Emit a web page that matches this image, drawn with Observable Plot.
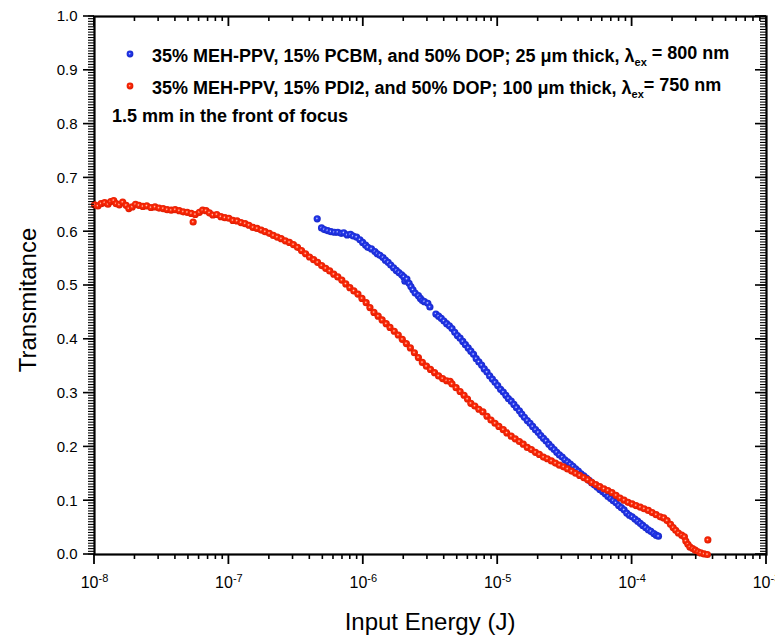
<!DOCTYPE html>
<html><head><meta charset="utf-8">
<script src="https://cdn.jsdelivr.net/npm/d3@7"></script>
<script src="https://cdn.jsdelivr.net/npm/@observablehq/plot@0.6"></script>
<style>
body{margin:0;background:#fff;}
#chart{width:775px;height:641px;}
</style></head><body><div id="chart"></div>
<script>
// ---- data ----
const seriesNames = ["PCBM, 25 um, 800 nm", "PDI2, 100 um, 750 nm"];
const legendMain = [
  "35% MEH-PPV, 15% PCBM, and 50% DOP; 25 \u03bcm thick, \u03bb",
  "35% MEH-PPV, 15% PDI2, and 50% DOP; 100 \u03bcm thick, \u03bb"
];
const legendTail = [" = 800 nm", "= 750 nm"];
const focusNote = "1.5 mm in the front of focus";
const xLabel = "Input Energy (J)";
const yLabel = "Transmitance";
const xTickValues = [1e-8, 1e-7, 1e-6, 1e-5, 1e-4, 1e-3];
const xTickExponents = ["-8", "-7", "-6", "-5", "-4", "-3"];
const yTickValues = [0, 0.1, 0.2, 0.3, 0.4, 0.5, 0.6, 0.7, 0.8, 0.9, 1.0];
const yTickLabels = ["0.0","0.1","0.2","0.3","0.4","0.5","0.6","0.7","0.8","0.9","1.0"];

const blueEnergy = [
4.54e-7,4.89e-7,5.13e-7,5.43e-7,5.75e-7,6.10e-7,6.46e-7,6.84e-7,7.16e-7,7.59e-7,
8.04e-7,8.41e-7,8.91e-7,9.44e-7,9.89e-7,1.04e-6,1.08e-6,1.15e-6,1.22e-6,1.27e-6,
1.33e-6,1.40e-6,1.46e-6,1.53e-6,1.60e-6,1.68e-6,1.76e-6,1.84e-6,1.93e-6,2.00e-6,
2.04e-6,2.11e-6,2.19e-6,2.26e-6,2.34e-6,2.43e-6,2.57e-6,2.66e-6,2.75e-6,2.85e-6,
3.02e-6,3.13e-6,3.47e-6,3.63e-6,3.80e-6,3.98e-6,4.17e-6,4.37e-6,4.57e-6,4.79e-6,
5.01e-6,5.25e-6,5.50e-6,5.75e-6,6.03e-6,6.31e-6,6.61e-6,6.92e-6,7.24e-6,7.59e-6,
7.94e-6,8.32e-6,8.71e-6,9.12e-6,9.55e-6,1.00e-5,1.05e-5,1.10e-5,1.15e-5,1.20e-5,
1.26e-5,1.32e-5,1.38e-5,1.45e-5,1.51e-5,1.58e-5,1.66e-5,1.74e-5,1.82e-5,1.91e-5,
2.00e-5,2.09e-5,2.19e-5,2.29e-5,2.40e-5,2.51e-5,2.63e-5,2.75e-5,2.88e-5,3.02e-5,
3.16e-5,3.31e-5,3.47e-5,3.63e-5,3.80e-5,3.98e-5,4.17e-5,4.37e-5,4.57e-5,4.79e-5,
5.01e-5,5.25e-5,5.50e-5,5.75e-5,6.03e-5,6.31e-5,6.61e-5,6.92e-5,7.24e-5,7.59e-5,
7.94e-5,8.32e-5,8.71e-5,9.12e-5,9.55e-5,1.00e-4,1.05e-4,1.10e-4,1.15e-4,1.20e-4,
1.26e-4,1.32e-4,1.38e-4,1.45e-4,1.51e-4,1.57e-4
];
const blueTransmittance = [
0.624,0.607,0.604,0.602,0.600,0.599,0.599,0.597,0.598,0.594,
0.595,0.592,0.590,0.585,0.580,0.575,0.571,0.568,0.563,0.559,
0.556,0.552,0.547,0.543,0.538,0.533,0.528,0.524,0.520,0.516,
0.508,0.512,0.504,0.498,0.492,0.486,0.481,0.476,0.472,0.470,
0.467,0.460,0.447,0.443,0.439,0.434,0.429,0.425,0.420,0.413,
0.407,0.402,0.396,0.390,0.384,0.378,0.372,0.364,0.358,0.352,
0.345,0.339,0.332,0.326,0.320,0.314,0.307,0.302,0.296,0.290,
0.285,0.279,0.273,0.267,0.261,0.255,0.249,0.244,0.238,0.232,
0.227,0.221,0.216,0.211,0.205,0.200,0.195,0.190,0.185,0.181,
0.176,0.172,0.168,0.164,0.159,0.155,0.150,0.146,0.142,0.138,
0.133,0.129,0.125,0.121,0.117,0.113,0.108,0.104,0.100,0.096,
0.091,0.087,0.083,0.077,0.073,0.070,0.066,0.062,0.058,0.054,
0.050,0.046,0.043,0.039,0.036,0.034
];

const redEnergy = [
1.00e-8,1.06e-8,1.12e-8,1.19e-8,1.26e-8,1.32e-8,1.39e-8,1.45e-8,1.53e-8,1.62e-8,
1.72e-8,1.80e-8,1.91e-8,2.02e-8,2.14e-8,2.29e-8,2.45e-8,2.63e-8,2.82e-8,3.02e-8,
3.24e-8,3.47e-8,3.72e-8,3.98e-8,4.27e-8,4.57e-8,4.90e-8,5.42e-8,5.25e-8,5.62e-8,
6.03e-8,6.38e-8,6.76e-8,7.16e-8,7.59e-8,8.13e-8,8.71e-8,9.33e-8,1.00e-7,1.07e-7,
1.15e-7,1.23e-7,1.32e-7,1.41e-7,1.51e-7,1.62e-7,1.74e-7,1.86e-7,2.00e-7,2.14e-7,
2.29e-7,2.45e-7,2.63e-7,2.82e-7,3.02e-7,3.24e-7,3.47e-7,3.72e-7,3.98e-7,4.27e-7,
4.57e-7,4.90e-7,5.25e-7,5.62e-7,6.03e-7,6.46e-7,6.92e-7,7.41e-7,7.94e-7,8.51e-7,
9.12e-7,9.77e-7,1.05e-6,1.12e-6,1.20e-6,1.29e-6,1.38e-6,1.48e-6,1.58e-6,1.70e-6,
1.82e-6,1.95e-6,2.09e-6,2.24e-6,2.40e-6,2.57e-6,2.75e-6,2.95e-6,3.16e-6,3.39e-6,
3.63e-6,3.89e-6,4.17e-6,4.42e-6,4.57e-6,4.90e-6,5.25e-6,5.62e-6,5.96e-6,6.31e-6,
6.76e-6,7.24e-6,7.76e-6,8.32e-6,8.91e-6,9.55e-6,1.02e-5,1.10e-5,1.17e-5,1.26e-5,
1.35e-5,1.45e-5,1.55e-5,1.66e-5,1.78e-5,1.91e-5,2.04e-5,2.19e-5,2.34e-5,2.51e-5,
2.69e-5,2.88e-5,3.09e-5,3.31e-5,3.55e-5,3.80e-5,4.07e-5,4.37e-5,4.68e-5,5.01e-5,
5.37e-5,5.75e-5,6.17e-5,6.61e-5,7.08e-5,7.59e-5,8.13e-5,8.71e-5,9.33e-5,1.00e-4,
1.07e-4,1.15e-4,1.23e-4,1.32e-4,1.41e-4,1.51e-4,1.62e-4,1.72e-4,1.82e-4,1.93e-4,
2.02e-4,2.11e-4,2.21e-4,2.34e-4,2.45e-4,2.51e-4,2.60e-4,2.69e-4,2.82e-4,2.95e-4,
3.09e-4,3.24e-4,3.43e-4,3.63e-4,3.66e-4
];
const redTransmittance = [
0.650,0.648,0.652,0.654,0.651,0.656,0.658,0.652,0.650,0.655,
0.649,0.643,0.646,0.651,0.649,0.647,0.648,0.645,0.646,0.644,
0.643,0.641,0.640,0.641,0.639,0.637,0.636,0.618,0.634,0.632,
0.636,0.640,0.639,0.635,0.631,0.632,0.628,0.626,0.625,0.621,
0.620,0.617,0.615,0.612,0.608,0.606,0.603,0.600,0.597,0.593,
0.590,0.587,0.583,0.580,0.576,0.571,0.565,0.559,0.553,0.548,
0.543,0.537,0.532,0.527,0.521,0.516,0.510,0.503,0.496,0.490,
0.484,0.476,0.468,0.459,0.450,0.443,0.436,0.429,0.422,0.415,
0.408,0.400,0.392,0.384,0.375,0.366,0.357,0.350,0.344,0.338,
0.332,0.327,0.323,0.322,0.317,0.310,0.303,0.296,0.289,0.281,
0.276,0.270,0.265,0.257,0.250,0.244,0.238,0.232,0.226,0.220,
0.215,0.210,0.205,0.199,0.195,0.190,0.186,0.181,0.178,0.174,
0.170,0.166,0.163,0.159,0.155,0.151,0.147,0.143,0.139,0.134,
0.130,0.126,0.122,0.119,0.115,0.110,0.105,0.101,0.097,0.094,
0.091,0.088,0.085,0.082,0.078,0.074,0.070,0.068,0.063,0.056,
0.050,0.045,0.040,0.036,0.033,0.025,0.019,0.014,0.011,0.008,
0.005,0.003,0.001,0.000,0.027
];

const blueData = blueEnergy.map((e, i) => ({energy: e, t: blueTransmittance[i], series: seriesNames[0]}));
const redData = redEnergy.map((e, i) => ({energy: e, t: redTransmittance[i], series: seriesNames[1]}));

const xMinor = [];
for (let k = -8; k < -3; k++) for (let m = 2; m <= 9; m++) xMinor.push(m * Math.pow(10, k));
const yMinor = d3.range(0, 201).map(i => i / 200);

const FONT = "'Liberation Sans', Arial, sans-serif";

const chart = Plot.plot({
  width: 775, height: 641, marginLeft: 94, marginRight: 9, marginTop: 16, marginBottom: 87,
  style: {fontFamily: FONT, background: "#fff", color: "#000"},
  x: {type: "log", domain: [1e-8, 1e-3]},
  y: {domain: [0, 1]},
  marks: [
    Plot.axisY(yTickValues, {anchor: "left", tickSize: 11, tickPadding: 6, stroke: "none",
      tickFormat: d => yTickLabels[yTickValues.indexOf(d)], fontSize: 15, label: null}),
    Plot.axisX(xTickValues, {anchor: "bottom", tickSize: 10, tickPadding: 12, stroke: "none", fontSize: 16,
      tickFormat: d => "10^" + xTickExponents[xTickValues.indexOf(d)], label: null}),
    Plot.frame({strokeWidth: 2.2}),
    Plot.dot(blueData, {x: "energy", y: "t", r: 3.6, fill: "url(#ballBlue)", stroke: "none"}),
    Plot.dot(redData, {x: "energy", y: "t", r: 3.6, fill: "url(#ballRed)", stroke: "none"})
  ]
});

const svg = d3.select(chart);
const defs = svg.append("defs");
function ball(id, light, base, dark) {
  const g = defs.append("radialGradient").attr("id", id).attr("cx", "0.45").attr("cy", "0.45").attr("r", "0.6");
  g.append("stop").attr("offset", "0").attr("stop-color", light);
  g.append("stop").attr("offset", "0.3").attr("stop-color", base);
  g.append("stop").attr("offset", "1").attr("stop-color", dark);
}
ball("ballBlue", "#d8dcff", "#2438ee", "#1424c0");
ball("ballRed", "#ffd0c0", "#ff2a08", "#d81800");

// tick marks, positioned with Plot's own scales
const xs = chart.scale("x"), ys = chart.scale("y");
const [L, R] = xs.range, [B, T] = ys.range;
const ticks = svg.append("g").attr("stroke", "#000").attr("fill", "none");
function seg(x1, y1, x2, y2, w) {
  ticks.append("line").attr("x1", x1).attr("y1", y1).attr("x2", x2).attr("y2", y2).attr("stroke-width", w);
}
yMinor.forEach(v => { const y = ys.apply(v); seg(L - 6, y, L, y, 1.1); seg(R - 6, y, R, y, 1.1); });
yTickValues.forEach(v => { const y = ys.apply(v); seg(L - 11, y, L, y, 1.6); seg(R - 11, y, R, y, 1.6); });
xMinor.forEach(v => { const x = xs.apply(v); seg(x, B, x, B + 5, 1.6); seg(x, T, x, T + 5, 1.6); });
xTickValues.forEach(v => { const x = xs.apply(v); seg(x, B, x, B + 10, 1.8); seg(x, T, x, T + 10, 1.8); });

// superscript exponents on x tick labels
svg.selectAll("g[aria-label='x-axis tick label'] text").each(function() {
  const t = d3.select(this);
  const s = t.text();
  if (!s.includes("^")) return;
  const [base, exp] = s.split("^");
  t.text(null);
  t.append("tspan").text(base);
  t.append("tspan").attr("dy", "-0.55em").attr("font-size", "11px").text(exp);
});

// axis titles
svg.append("text")
  .attr("x", (L + R) / 2).attr("y", 630)
  .attr("text-anchor", "middle").attr("font-size", 24).attr("fill", "#000")
  .text(xLabel);
svg.append("text")
  .attr("transform", `translate(36,${(T + B) / 2 + 15}) rotate(-90)`)
  .attr("text-anchor", "middle").attr("font-size", 24).attr("fill", "#000")
  .text(yLabel);

// legend
const legend = svg.append("g").attr("font-weight", "bold").attr("font-size", 18)
  .attr("fill", "#000").attr("text-anchor", "start");
const rows = [{y: 62, fill: "url(#ballBlue)"}, {y: 94, fill: "url(#ballRed)"}];
rows.forEach((r, i) => {
  legend.append("circle").attr("cx", 130).attr("cy", r.y - 8).attr("r", 3.4).attr("fill", r.fill);
  const t = legend.append("text").attr("x", 152).attr("y", r.y);
  t.append("tspan").text(legendMain[i]);
  t.append("tspan").attr("dy", "0.4em").attr("font-size", 11).text("ex");
  t.append("tspan").attr("dy", "-0.4em").text(legendTail[i]);
});
legend.append("text").attr("x", 112).attr("y", 122).text(focusNote);

document.getElementById("chart").appendChild(chart);
</script>
</body></html>
